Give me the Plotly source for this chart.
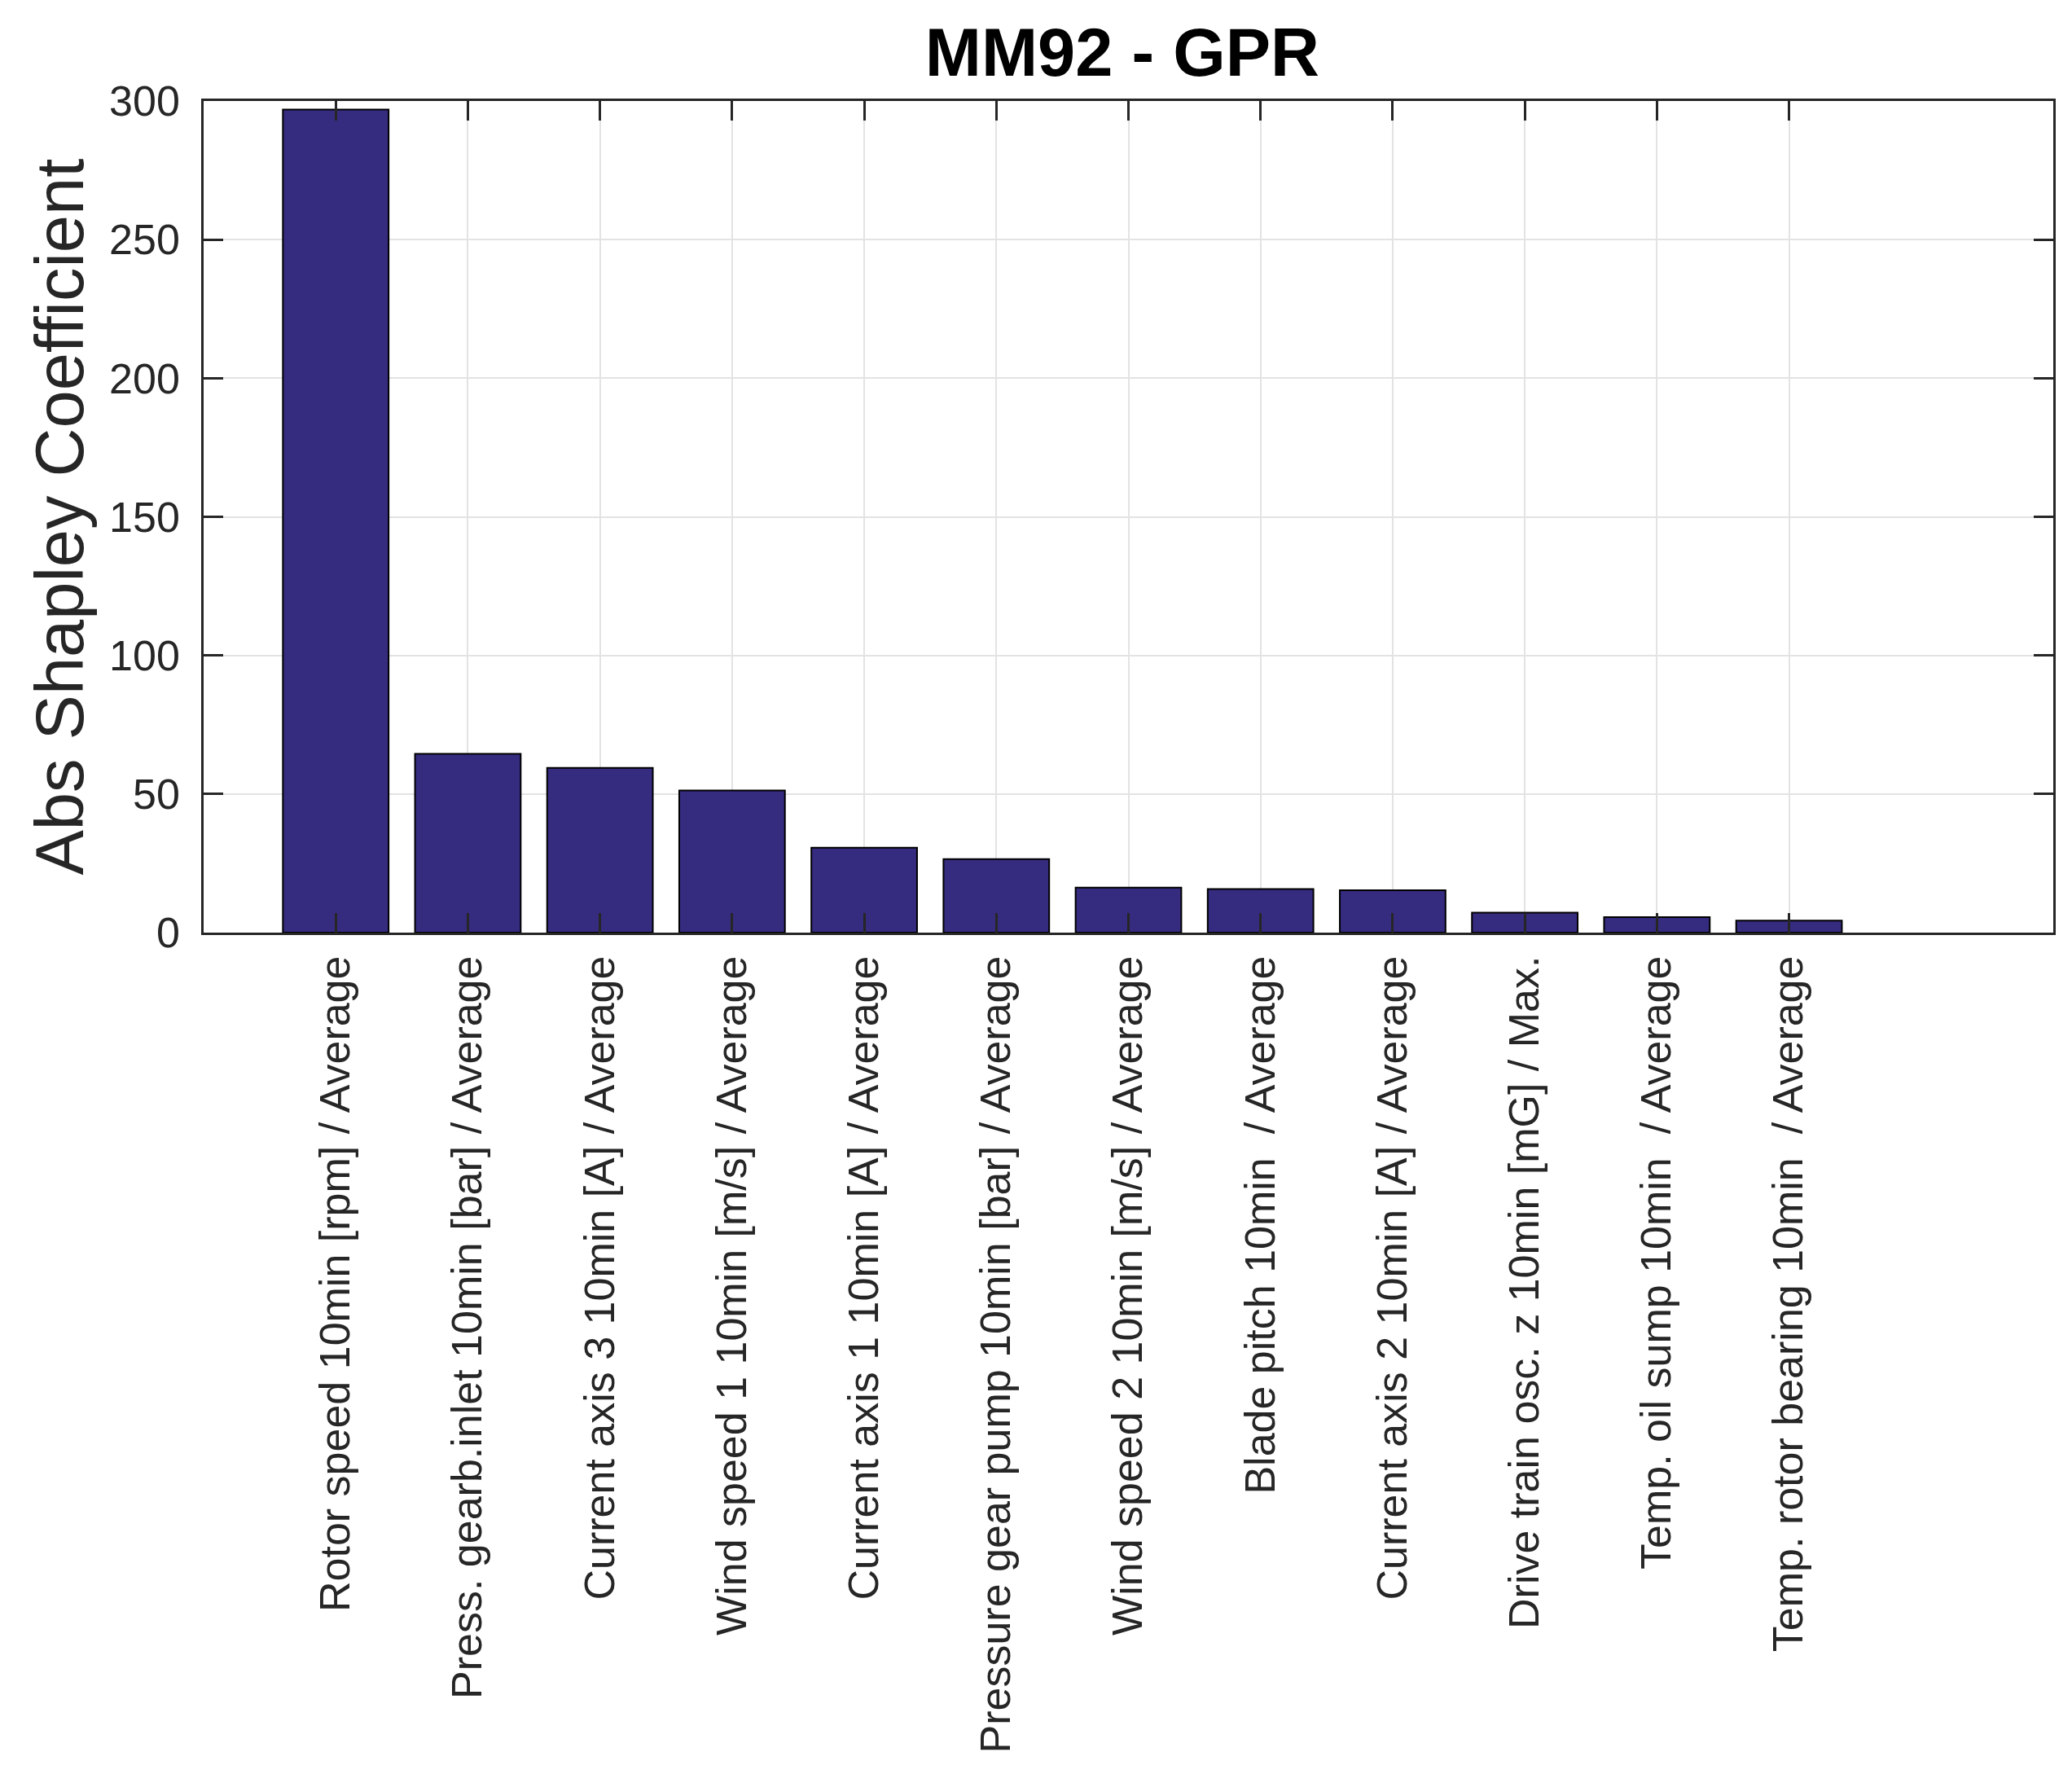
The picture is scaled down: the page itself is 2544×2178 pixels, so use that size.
import plotly.graph_objects as go

# feature names, sorted by importance (as in the source figure)
features = [
    "Rotor speed 10min [rpm] / Average",
    "Press. gearb.inlet 10min [bar] / Average",
    "Current axis 3 10min [A] / Average",
    "Wind speed 1 10min [m/s] / Average",
    "Current axis 1 10min [A] / Average",
    "Pressure gear pump 10min [bar] / Average",
    "Wind speed 2 10min [m/s] / Average",
    "Blade pitch 10min \u00a0/ Average",
    "Current axis 2 10min [A] / Average",
    "Drive train osc. z 10min [mG] / Max.",
    "Temp. oil sump 10min \u00a0/ Average",
    "Temp. rotor bearing 10min \u00a0/ Average",
]
positions = list(range(1, len(features) + 1))
shap_values = [296.9, 64.5, 59.4, 51.3, 30.6, 26.5, 16.2, 15.7, 15.3, 7.2, 5.6, 4.3]
y_ticks = [0, 50, 100, 150, 200, 250, 300]

FONT = "Liberation Sans, Arial, Helvetica, sans-serif"
TEXT = "#262626"

fig = go.Figure(
    go.Bar(
        x=positions,
        y=shap_values,
        width=0.8,
        marker=dict(color="#352b7f", line=dict(color="#000000", width=2)),
    )
)

fig.update_layout(
    width=2544,
    height=2178,
    paper_bgcolor="white",
    plot_bgcolor="white",
    showlegend=False,
    margin=dict(l=242, r=31, t=116, b=1041),
    font=dict(family=FONT, color=TEXT, size=52),
    title=dict(
        text="<b>MM92 - GPR</b>",
        font=dict(family=FONT, size=83, color="#000000"),
        x=0.5385,
        xanchor="center",
        y=0.9745,
        yanchor="middle",
    ),
)

axis_style = dict(
    showline=True,
    linecolor=TEXT,
    linewidth=2.5,
    mirror="ticks",
    ticks="inside",
    ticklen=24,
    tickwidth=2.5,
    tickcolor=TEXT,
    showgrid=True,
    gridcolor="#e3e3e3",
    gridwidth=2,
    zeroline=False,
    tickfont=dict(family=FONT, size=52, color=TEXT),
)

fig.update_xaxes(
    range=[0, 14],
    tickvals=positions,
    ticktext=features,
    tickangle=-90,
    ticklabelstandoff=5,
    **axis_style,
)
fig.update_yaxes(
    range=[0, 300],
    tickvals=y_ticks,
    ticklabelstandoff=16,
    **axis_style,
)

fig.add_annotation(
    text="Abs Shapley Coefficient",
    xref="paper",
    yref="paper",
    x=-0.0775,
    y=0.5,
    xanchor="center",
    yanchor="middle",
    textangle=-90,
    showarrow=False,
    font=dict(family=FONT, size=83, color=TEXT),
)

fig.write_html("out.html")
